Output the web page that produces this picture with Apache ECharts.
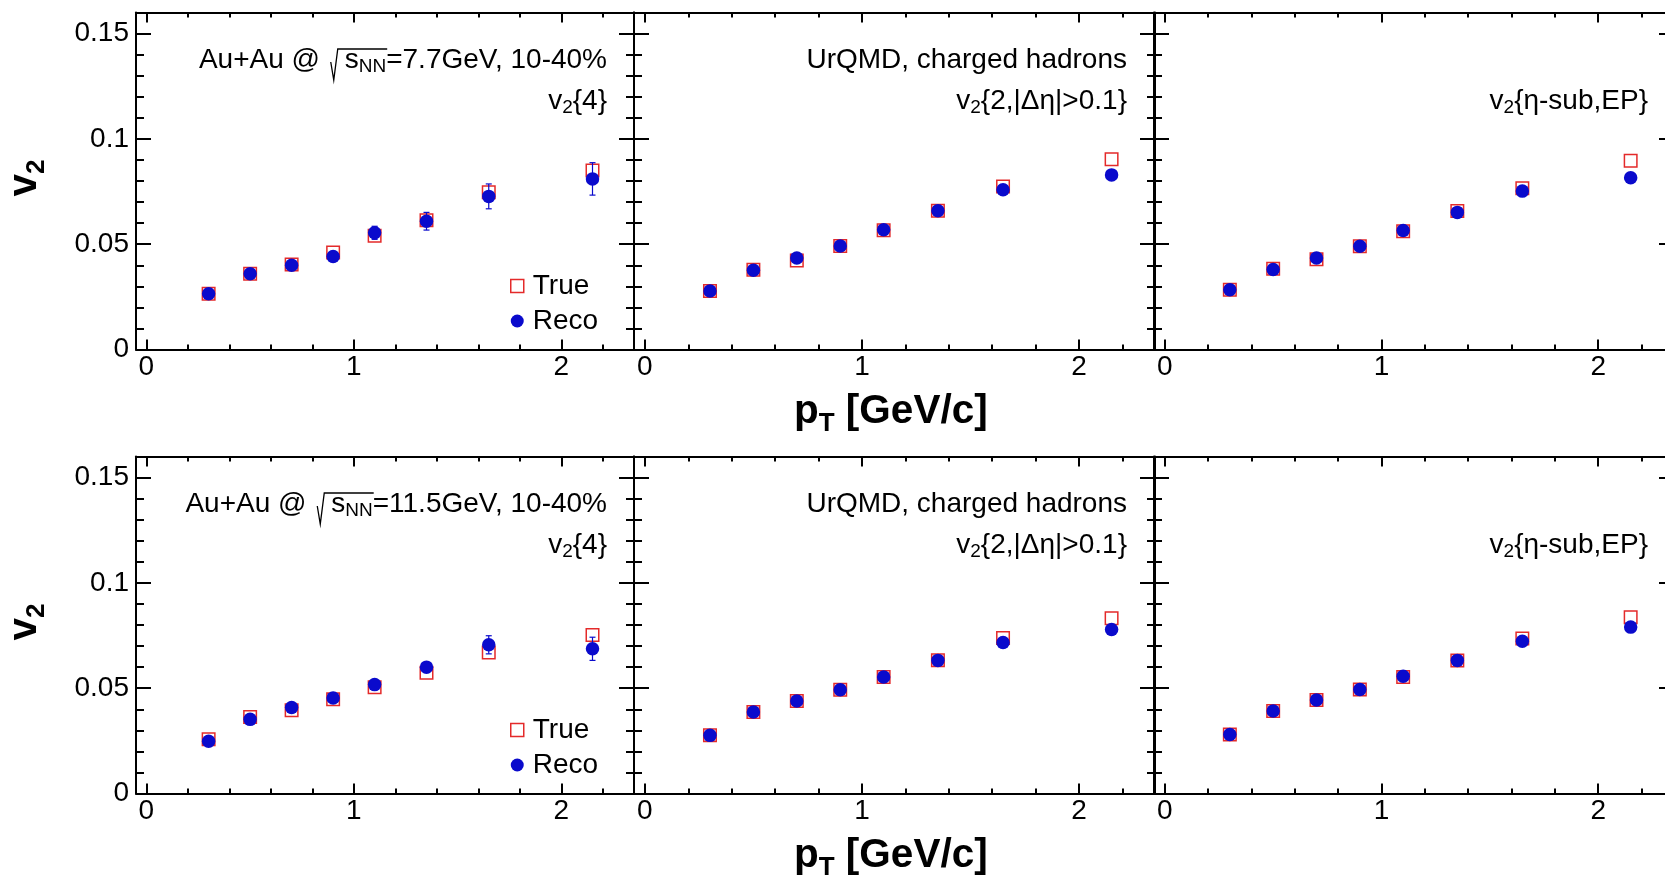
<!DOCTYPE html>
<html><head><meta charset="utf-8">
<script src="https://cdn.jsdelivr.net/npm/echarts@6/dist/echarts.min.js"></script>
<style>html,body{margin:0;padding:0;background:#fff;}#c{width:1665px;height:888px;}</style>
</head><body><div id="c"></div>
<script>
// ---------------- data ----------------
const ptBins = [0.3, 0.5, 0.7, 0.9, 1.1, 1.35, 1.65, 2.15];
const xTickLabels = [0, 1, 2];
const xMinorTicks = [0.2, 0.4, 0.6, 0.8, 1.2, 1.4, 1.6, 1.8, 2.2];
const yTickLabels = [0, 0.05, 0.1, 0.15];
const yMinorTicks = [0.01, 0.02, 0.03, 0.04, 0.06, 0.07, 0.08, 0.09, 0.11, 0.12, 0.13, 0.14];
const energies = ['7.7', '11.5'];
const methodLabels = ['v2{4}', 'v2{2,|Δη|>0.1}', 'v2{η-sub,EP}'];

// 7.7 GeV
const true77_v24  = [0.0265, 0.0360, 0.0403, 0.0460, 0.0540, 0.0614, 0.0747, 0.0850];
const reco77_v24  = [0.0265, 0.0360, 0.0400, 0.0442, 0.0554, 0.0609, 0.0727, 0.0810];
const err77_v24   = [0.0012, 0.0014, 0.0015, 0.0018, 0.0031, 0.0042, 0.0059, 0.0077];
const true77_v22  = [0.0278, 0.0379, 0.0423, 0.0491, 0.0566, 0.0659, 0.0774, 0.0903];
const reco77_v22  = [0.0278, 0.0376, 0.0434, 0.0491, 0.0569, 0.0659, 0.0758, 0.0829];
const true77_vEP  = [0.0284, 0.0383, 0.0428, 0.0490, 0.0562, 0.0658, 0.0766, 0.0896];
const reco77_vEP  = [0.0284, 0.0380, 0.0434, 0.0490, 0.0565, 0.0651, 0.0752, 0.0815];
// 11.5 GeV
const true115_v24 = [0.0257, 0.0363, 0.0395, 0.0448, 0.0505, 0.0573, 0.0670, 0.0752];
const reco115_v24 = [0.0248, 0.0352, 0.0408, 0.0453, 0.0517, 0.0600, 0.0706, 0.0687];
const err115_v24  = [0.0010, 0.0012, 0.0013, 0.0015, 0.0018, 0.0020, 0.0043, 0.0055];
const true115_v22 = [0.0276, 0.0387, 0.0439, 0.0493, 0.0553, 0.0633, 0.0738, 0.0832];
const reco115_v22 = [0.0276, 0.0387, 0.0439, 0.0493, 0.0553, 0.0632, 0.0717, 0.0779];
const true115_vEP = [0.0280, 0.0392, 0.0444, 0.0494, 0.0553, 0.0632, 0.0736, 0.0837];
const reco115_vEP = [0.0280, 0.0392, 0.0444, 0.0494, 0.0557, 0.0632, 0.0723, 0.0790];

// ---------------- layout / style ----------------
const FONT = 'Liberation Sans';
const FS = 28;
const RED = '#e42a2a';
const BLUE = '#0a0acc';
const colLeft = [136, 634, 1154];
const colWidth = [498, 521, 520];
const rowTop = [12.5, 456.5];
const rowH = 337;
const rowShift = 444;

const panels = [
  {row:0, col:0, tru:true77_v24,  reco:reco77_v24,  err:err77_v24},
  {row:0, col:1, tru:true77_v22,  reco:reco77_v22},
  {row:0, col:2, tru:true77_vEP,  reco:reco77_vEP},
  {row:1, col:0, tru:true115_v24, reco:reco115_v24, err:err115_v24},
  {row:1, col:1, tru:true115_v22, reco:reco115_v22},
  {row:1, col:2, tru:true115_vEP, reco:reco115_vEP}
];

const grids = [], xAxes = [], yAxes = [], series = [];
const lineSt = {color:'#000', width:2};

panels.forEach((p, i) => {
  grids.push({left: colLeft[p.col], top: rowTop[p.row], width: colWidth[p.col], height: rowH,
              containLabel:false, outerBoundsMode:'none'});
  const xi = xAxes.length, yi = yAxes.length;
  const xb = {gridIndex:i, type:'value', min:-0.05, max:2.35, splitLine:{show:false}};
  const yb = {gridIndex:i, type:'value', min:0, max:0.16, splitLine:{show:false}};
  ['bottom','top'].forEach(pos => {
    xAxes.push(Object.assign({}, xb, {position:pos,
      axisLine:{show:true, onZero:false, lineStyle:lineSt},
      axisTick:{show:true, inside:true, length:10, customValues:xTickLabels, lineStyle:lineSt},
      axisLabel:{show:pos==='bottom', customValues:xTickLabels, margin:4, fontSize:FS, fontFamily:FONT, color:'#000'}}));
    xAxes.push(Object.assign({}, xb, {position:pos,
      axisLine:{show:false, onZero:false},
      axisTick:{show:true, inside:true, length:5, customValues:xMinorTicks, lineStyle:lineSt},
      axisLabel:{show:false}}));
  });
  ['left','right'].forEach(pos => {
    yAxes.push(Object.assign({}, yb, {position:pos,
      axisLine:{show:true, onZero:false, lineStyle:lineSt},
      axisTick:{show:true, inside:true, length:15, customValues:yTickLabels, lineStyle:lineSt},
      axisLabel:{show:(pos==='left' && p.col===0), customValues:yTickLabels, margin:7, fontSize:FS, fontFamily:FONT, color:'#000'}}));
    yAxes.push(Object.assign({}, yb, {position:pos,
      axisLine:{show:false, onZero:false},
      axisTick:{show:true, inside:true, length:8, customValues:yMinorTicks, lineStyle:lineSt},
      axisLabel:{show:false}}));
  });
  series.push({type:'scatter', name:'True', xAxisIndex:xi, yAxisIndex:yi, symbol:'rect', symbolSize:12.5, z:2,
    itemStyle:{color:'rgba(255,255,255,0)', borderColor:RED, borderWidth:1.5, opacity:1},
    data: ptBins.map((x,k) => [x, p.tru[k]])});
  if (p.err) {
    series.push({type:'custom', name:'RecoErr', xAxisIndex:xi, yAxisIndex:yi, z:3,
      data: ptBins.map((x,k) => [x, p.reco[k]-p.err[k], p.reco[k]+p.err[k]]),
      renderItem: (params, api) => {
        const a = api.coord([api.value(0), api.value(1)]);
        const b = api.coord([api.value(0), api.value(2)]);
        const c = 3, st = {stroke:BLUE, lineWidth:1.2};
        return {type:'group', children:[
          {type:'line', shape:{x1:a[0], y1:a[1], x2:b[0], y2:b[1]}, style:st},
          {type:'line', shape:{x1:a[0]-c, y1:a[1], x2:a[0]+c, y2:a[1]}, style:st},
          {type:'line', shape:{x1:b[0]-c, y1:b[1], x2:b[0]+c, y2:b[1]}, style:st}]};
      }});
  }
  series.push({type:'scatter', name:'Reco', xAxisIndex:xi, yAxisIndex:yi, symbol:'circle', symbolSize:13.5, z:4,
    itemStyle:{color:BLUE, opacity:1},
    data: ptBins.map((x,k) => [x, p.reco[k]])});
});

// ---------------- texts ----------------
const mctx = document.createElement('canvas').getContext('2d');
function tw(t, size, bold){ mctx.font = (bold ? 'bold ' : '') + size + 'px ' + FONT; return mctx.measureText(t).width; }
const SUB = 19;
const TF = 40.5;
const RICH = {
  n:{fontSize:FS, fontFamily:FONT, lineHeight:32, fill:'#000'},
  s:{fontSize:SUB, fontFamily:FONT, lineHeight:10, verticalAlign:'bottom', fill:'#000'},
  sn:{fontSize:SUB, fontFamily:FONT, lineHeight:6, verticalAlign:'bottom', fill:'#000'},
  r:{fontSize:FS, fontFamily:FONT, lineHeight:32, width:17, fill:'#000'},
  b:{fontSize:TF, fontFamily:FONT, fontWeight:'bold', lineHeight:50, fill:'#000'},
  bs:{fontSize:26, fontFamily:FONT, fontWeight:'bold', lineHeight:4, verticalAlign:'bottom', fill:'#000'}
};
const MID = Math.round(0.31*FS) - 2;
function txt(text, x, by, align){
  return {type:'text', x:x, y:by-MID, z:10, style:{text:text, align:align||'right', verticalAlign:'middle',
    rich:RICH, fontSize:FS, fontFamily:FONT, lineHeight:32, fill:'#000'}};
}
function methodText(lbl){ // 'v2{...}' -> v with subscript 2, rest plain
  return '{n|v}{s|2}' + lbl.slice(2);
}
function energyLabel(e, rightX, by){
  const pre = 'Au+Au @ ', post = '=' + e + 'GeV, 10-40%';
  const R = 17;
  const W = tw(pre,FS) + R + tw('s',FS) + tw('NN',SUB) + tw(post,FS);
  const xr = rightX - W + tw(pre,FS);
  const xEnd = xr + R + tw('s',FS) + tw('NN',SUB) + 1;
  const b = by + 2;
  return [
    {type:'text', x:rightX, y:by-MID, z:10, style:{text:'{n|'+pre+'}{r| }{n|s}{sn|NN}{n|'+post+'}',
      align:'right', verticalAlign:'middle', rich:RICH, fontSize:FS, fontFamily:FONT, lineHeight:32, fill:'#000'}},
    {type:'polyline', z:10, shape:{points:[[xr+3,b-7],[xr+6,b+11],[xr+10,b-20],[xEnd,b-20]]},
      style:{stroke:'#000', lineWidth:1.3, fill:null}}
  ];
}
const gfx = [];
[0,1].forEach(r => {
  const d = r*rowShift;
  gfx.push(...energyLabel(energies[r], 607, 67+d));
  gfx.push(txt(methodText(methodLabels[0]), 607, 108+d));
  gfx.push(txt('{n|UrQMD, charged hadrons}', 1127, 67+d));
  gfx.push(txt(methodText(methodLabels[1]), 1127, 108+d));
  gfx.push(txt(methodText(methodLabels[2]), 1648, 108+d));
  gfx.push({type:'text', x:794, y:412+d, z:10, style:{text:'{b|p}{bs|T}{b| [GeV/c]}', align:'left', verticalAlign:'middle',
    rich:RICH, fontSize:TF, fontWeight:'bold', fontFamily:FONT, lineHeight:50, fill:'#000'}});
  gfx.push({type:'text', x:25, y:178+d, rotation:Math.PI/2, z:10, style:{text:'{b|v}{bs|2}', align:'center', verticalAlign:'middle',
    rich:RICH, fontSize:TF, fontWeight:'bold', fontFamily:FONT, lineHeight:50, fill:'#000'}});
});

const legendBase = {orient:'vertical', left:510, padding:0, itemWidth:13, itemHeight:13, itemGap:7,
  selectedMode:false, textStyle:{fontSize:FS, fontFamily:FONT, color:'#000', lineHeight:28, padding:[0,0,0,4]},
  data:[{name:'True', icon:'rect', itemStyle:{color:'#fff', borderColor:RED, borderWidth:1.5}},
        {name:'Reco', icon:'circle', itemStyle:{color:BLUE}}]};

const chart = echarts.init(document.getElementById('c'), null, {renderer:'canvas'});
chart.setOption({
  animation:false,
  backgroundColor:'#fff',
  grid:grids, xAxis:xAxes, yAxis:yAxes, series:series,
  legend:[Object.assign({}, legendBase, {top:272}), Object.assign({}, legendBase, {top:272+rowShift})],
  graphic:{elements:gfx}
});
</script></body></html>
